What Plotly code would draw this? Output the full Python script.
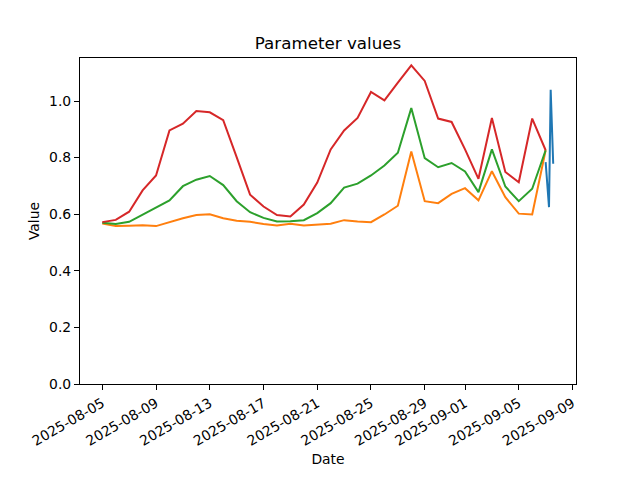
import plotly.graph_objects as go
import pandas as pd

# Daily series (2025-08-05 .. 2025-09-07)
dates = pd.date_range("2025-08-05", "2025-09-07", freq="D")

red_vals = [0.572, 0.580, 0.609, 0.684, 0.737, 0.896, 0.920, 0.965, 0.960, 0.932,
            0.802, 0.669, 0.627, 0.597, 0.592, 0.634, 0.712, 0.829, 0.896, 0.940,
            1.032, 1.002, 1.065, 1.126, 1.071, 0.938, 0.926, 0.829, 0.725, 0.940,
            0.749, 0.713, 0.938, 0.826]
green_vals = [0.570, 0.565, 0.573, 0.598, 0.625, 0.649, 0.699, 0.722, 0.735, 0.703,
              0.646, 0.607, 0.587, 0.574, 0.575, 0.579, 0.604, 0.639, 0.694, 0.708,
              0.737, 0.772, 0.817, 0.975, 0.798, 0.766, 0.781, 0.751, 0.678, 0.829,
              0.698, 0.646, 0.690, 0.826]
orange_vals = [0.567, 0.558, 0.559, 0.561, 0.558, 0.573, 0.586, 0.597, 0.600, 0.586,
               0.577, 0.573, 0.565, 0.560, 0.566, 0.560, 0.563, 0.566, 0.579, 0.574,
               0.572, 0.599, 0.630, 0.822, 0.646, 0.639, 0.672, 0.692, 0.649, 0.752,
               0.660, 0.602, 0.599, 0.826]

# Intraday series on 2025-09-07
blue_times = ["2025-09-07 00:00", "2025-09-07 06:00", "2025-09-07 09:00", "2025-09-07 13:30"]
blue_vals = [0.784, 0.625, 1.040, 0.778]

x_ticks = ["2025-08-05", "2025-08-09", "2025-08-13", "2025-08-17", "2025-08-21",
           "2025-08-25", "2025-08-29", "2025-09-01", "2025-09-05", "2025-09-09"]
y_ticks = [0.0, 0.2, 0.4, 0.6, 0.8, 1.0]

fig = go.Figure()
fig.add_trace(go.Scatter(x=blue_times, y=blue_vals, mode="lines",
                         line=dict(color="#1f77b4", width=2)))
fig.add_trace(go.Scatter(x=dates, y=orange_vals, mode="lines",
                         line=dict(color="#ff7f0e", width=2)))
fig.add_trace(go.Scatter(x=dates, y=green_vals, mode="lines",
                         line=dict(color="#2ca02c", width=2)))
fig.add_trace(go.Scatter(x=dates, y=red_vals, mode="lines",
                         line=dict(color="#d62728", width=2)))

start = pd.Timestamp("2025-08-05")
xr = [start - pd.Timedelta(days=1.66), start + pd.Timedelta(days=35.26)]

font = dict(family="DejaVu Sans", size=13.9, color="black")
fig.update_layout(
    width=640, height=480,
    margin=dict(l=80, r=64, t=57.6, b=96, pad=0, autoexpand=False),
    plot_bgcolor="white", paper_bgcolor="white",
    showlegend=False,
    font=font,
    title=dict(text="Parameter values", x=0.5, xref="paper", y=1 - 43 / 480,
               yref="container", xanchor="center", yanchor="middle",
               font=dict(family="DejaVu Sans", size=16.7, color="black")),
)
fig.update_xaxes(
    range=xr, tickvals=x_ticks, ticktext=x_ticks, tickangle=-30,
    showline=True, mirror=True, linecolor="black", linewidth=1.1,
    ticks="outside", ticklen=5, tickwidth=1.1, tickcolor="black",
    showgrid=False, zeroline=False, tickfont=font, automargin=False,
    title=dict(text="Date", font=font, standoff=6),
)
fig.update_yaxes(
    range=[0, 1.152], tickvals=y_ticks, ticktext=[f"{v:.1f}" for v in y_ticks],
    showline=True, mirror=True, linecolor="black", linewidth=1.1,
    ticks="outside", ticklen=5, tickwidth=1.1, tickcolor="black",
    showgrid=False, zeroline=False, tickfont=font, automargin=False,
    title=dict(text="Value", font=font, standoff=6),
)
fig.write_html("out.html", config={"displayModeBar": False},
               post_script="document.body.style.margin='0';")
